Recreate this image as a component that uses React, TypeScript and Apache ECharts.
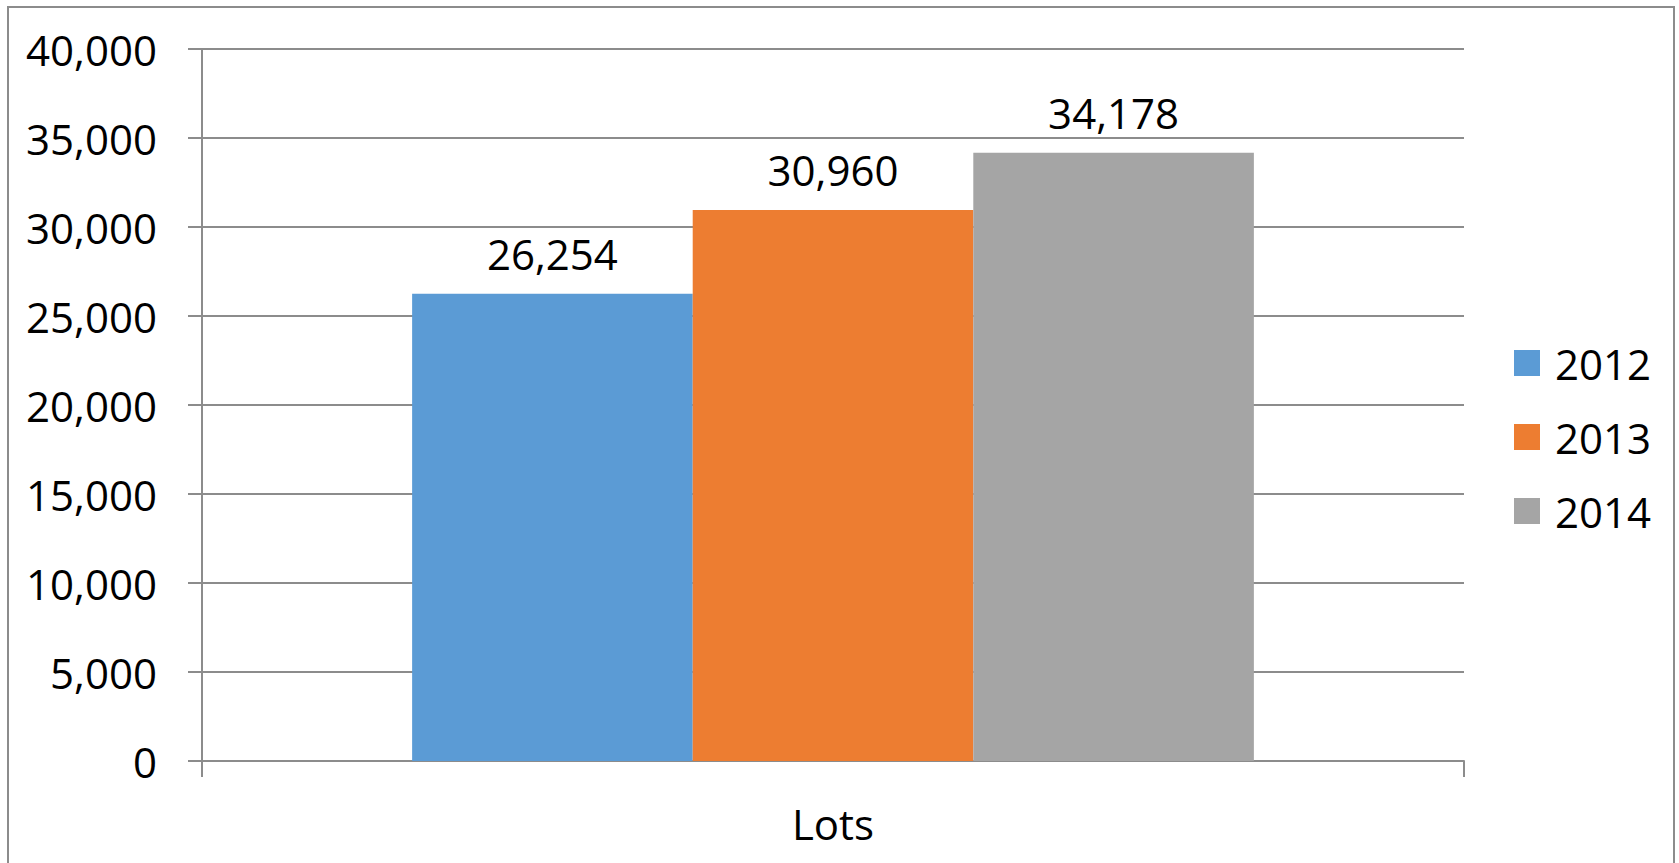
import React, { useEffect, useRef } from "react";
import * as echarts from "echarts";

const categories = ["Lots"];
const seriesNames = ["2012", "2013", "2014"];
const seriesValues = [26254, 30960, 34178];
const seriesColors = ["#5B9BD5", "#ED7D31", "#A5A5A5"];
const yTicks = { min: 0, max: 40000, interval: 5000 };

const FONT = "Open Sans";
const fmt = (v: number) => Number(v).toLocaleString("en-US");

export default function App() {
  const ref = useRef<HTMLDivElement>(null);
  useEffect(() => {
    if (!ref.current) return;
    const chart = echarts.init(ref.current, undefined, { renderer: "svg" });
    const gray = "#8c8c8c";
    chart.setOption({
      animation: false,
      backgroundColor: "#ffffff",
      textStyle: { fontFamily: FONT },
      graphic: [
        {
          type: "rect",
          shape: { x: 8, y: 7, width: 1666, height: 900 },
          style: { fill: "none", stroke: gray, lineWidth: 2 },
          silent: true,
        },
      ],
      grid: { left: 202, top: 49, right: 215, bottom: 102, containLabel: false },
      legend: {
        orient: "vertical",
        left: 1509,
        top: 337,
        itemWidth: 26,
        itemHeight: 26,
        itemGap: 32,
        icon: "rect",
        textStyle: { fontFamily: FONT, fontSize: 42, color: "#000", lineHeight: 42, padding: [0, 0, 0, 10] },
        data: seriesNames,
      },
      xAxis: {
        type: "category",
        data: categories,
        axisLine: { show: true, lineStyle: { color: gray, width: 2 } },
        axisTick: { show: true, length: 16, lineStyle: { color: gray, width: 2 } },
        axisLabel: { color: "#000", fontSize: 42, fontFamily: FONT, margin: 41, lineHeight: 42 },
        splitLine: { show: false },
      },
      yAxis: {
        type: "value",
        min: yTicks.min,
        max: yTicks.max,
        interval: yTicks.interval,
        axisLine: { show: true, lineStyle: { color: gray, width: 2 } },
        axisTick: { show: true, length: 14, lineStyle: { color: gray, width: 2 } },
        axisLabel: { color: "#000", fontSize: 42, fontFamily: FONT, margin: 45, formatter: (v: number) => fmt(v) },
        splitLine: { show: true, lineStyle: { color: gray, width: 2 } },
      },
      series: seriesNames.map((name, i) => ({
        name,
        type: "bar",
        data: [seriesValues[i]],
        itemStyle: { color: seriesColors[i] },
        barGap: "0%",
        barCategoryGap: "33.3%",
        label: {
          show: true,
          position: "top",
          distance: 19,
          color: "#000",
          fontSize: 42,
          fontFamily: FONT,
          lineHeight: 42,
          formatter: (p: any) => fmt(p.value),
        },
      })),
    });
    return () => chart.dispose();
  }, []);
  return (
    <div
      ref={ref}
      style={{ position: "absolute", left: 0, top: 0, width: 1679, height: 863 }}
    />
  );
}
